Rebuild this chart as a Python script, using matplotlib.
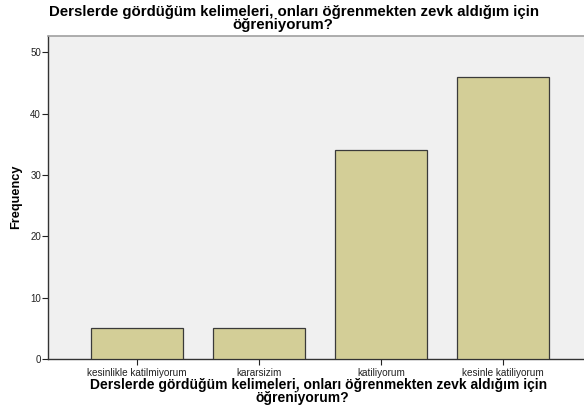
import numpy as np
import matplotlib.pyplot as plt

plt.rcParams['font.family'] = ['Liberation Sans', 'DejaVu Sans']

# data
categories = ['kesinlikle katilmiyorum', 'kararsizim', 'katiliyorum', 'kesinle katiliyorum']
counts = [5, 5, 34, 46]
title_lines = ['Derslerde gördüğüm kelimeleri, onları öğrenmekten zevk aldığım için', 'öğreniyorum?']

fig = plt.figure(figsize=(5.84, 4.16), dpi=100)
ax = fig.add_axes([0.082, 0.137, 0.93, 0.776])
ax.set_facecolor('#f0f0f0')

x = np.arange(len(categories))
ax.bar(x, counts, width=0.75, color='#d3ce97', edgecolor='#3a3a3a', linewidth=0.9, zorder=3)

ax.set_xlim(-0.73, 3.72)
ax.set_ylim(0, 52.6)
ax.set_yticks([0, 10, 20, 30, 40, 50])
ax.set_xticks(x)
ax.set_xticklabels(categories, fontsize=7.2)
ax.tick_params(axis='y', labelsize=7, length=4, width=0.8, pad=1, colors='#222222')
ax.tick_params(axis='x', length=4, width=0.8, pad=2.5, colors='#222222')

for side in ['left', 'bottom']:
    ax.spines[side].set_color('#333333')
    ax.spines[side].set_linewidth(1.0)
ax.spines['top'].set_color('#a0a0a0')
ax.spines['top'].set_linewidth(1.2)
ax.spines['right'].set_visible(False)

fig.text(16 / 584, 1 - 197 / 416, 'Frequency', rotation=90, ha='center', va='center',
         fontsize=9.2, fontweight='bold')

# title (top) and axis title (bottom), each as two lines like the original
fig.text(294 / 584, 1 - 12 / 416, title_lines[0], ha='center', va='center', fontsize=10.8, fontweight='bold')
fig.text(283 / 584, 1 - 25.5 / 416, title_lines[1], ha='center', va='center', fontsize=10.8, fontweight='bold')
fig.text(319 / 584, 1 - 385 / 416, title_lines[0], ha='center', va='center', fontsize=10, fontweight='bold')
fig.text(302 / 584, 1 - 398 / 416, title_lines[1], ha='center', va='center', fontsize=10, fontweight='bold')

fig.savefig('out.png', dpi=100)
